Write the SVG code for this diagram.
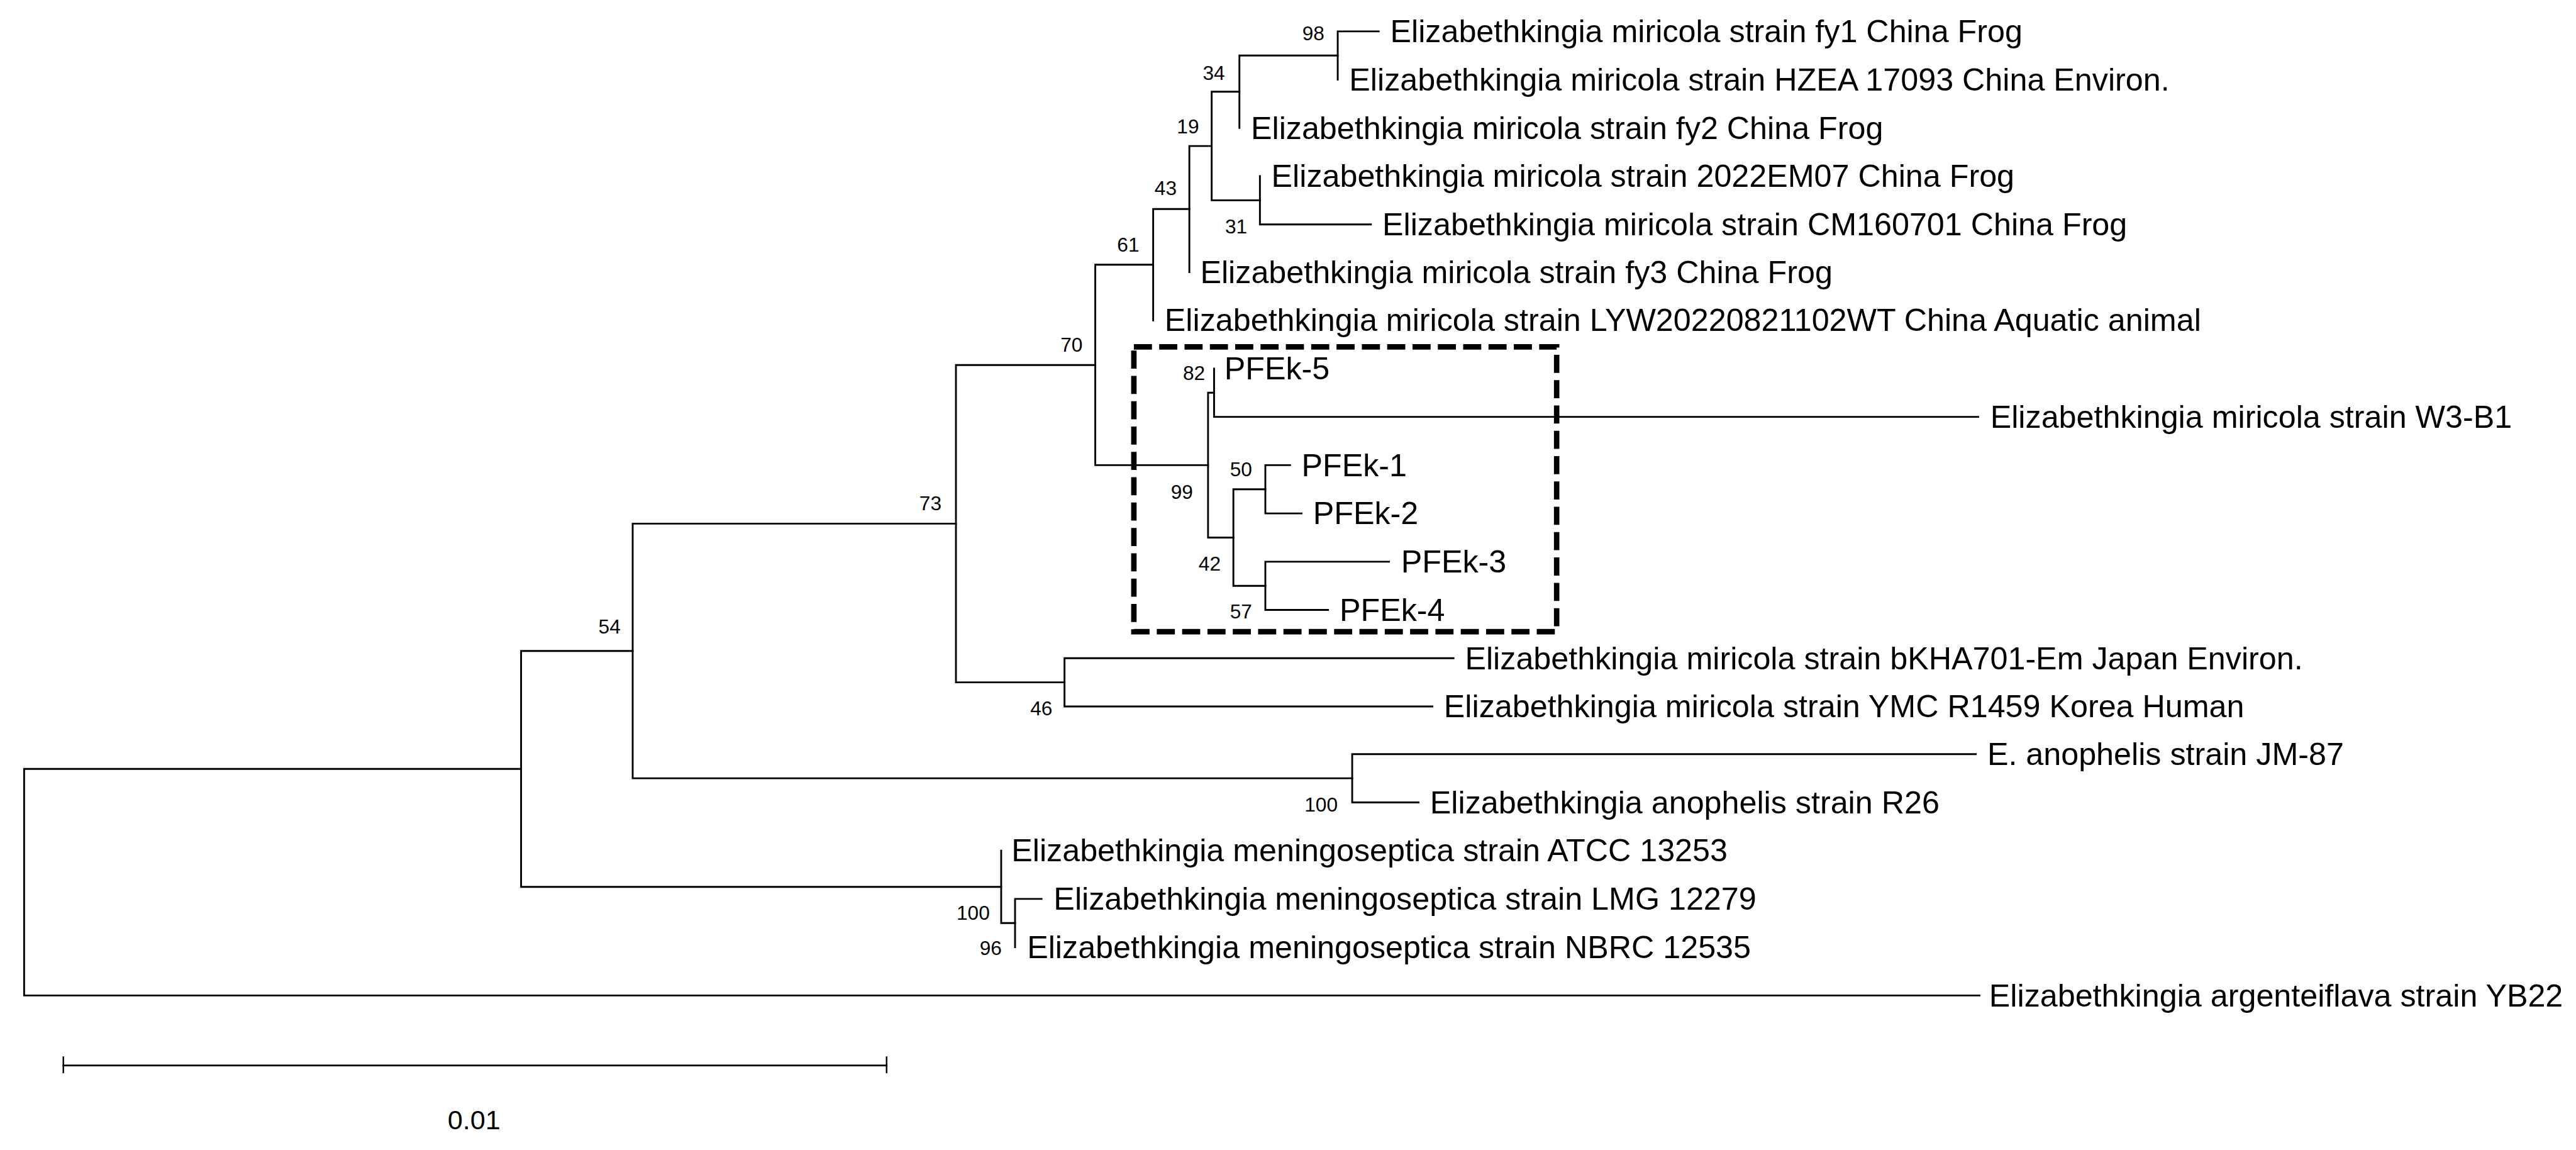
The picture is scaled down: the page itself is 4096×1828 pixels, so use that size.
<svg xmlns="http://www.w3.org/2000/svg" width="4096" height="1828" viewBox="0 0 4096 1828">
<style>
text{font-family:"Liberation Sans",Arial,sans-serif;fill:#000}
.leaf{font-size:52.4px}
.bs{font-size:33px;text-anchor:end}
.br{stroke:#000;stroke-width:3;fill:none;stroke-linecap:square}
.box{stroke:#000;stroke-width:9;fill:none;stroke-dasharray:30 12}
</style>
<rect width="4096" height="1828" fill="#fff"/>
<g transform="scale(0.959)">
<g id="connectors">
<path class="br" d="M40 1274.5V1650M40 1274.5H864M40 1650H3282"/>
<path class="br" d="M864 1079V1470M864 1079H1049M864 1470H1660"/>
<path class="br" d="M1049 868V1290M1049 868H1585M1049 1290H2242"/>
<path class="br" d="M1585 605V1131M1585 605H1816M1585 1131H1765"/>
<path class="br" d="M1816 438.8V771M1816 438.8H1912M1816 771H2003"/>
<path class="br" d="M1912 346.5V531M1912 346.5H1972"/>
<path class="br" d="M1972 242V451M1972 242H2009"/>
<path class="br" d="M2009 152V332M2009 152H2055M2009 332H2089"/>
<path class="br" d="M2055 92V212M2055 92H2218"/>
<path class="br" d="M2218 52V132M2218 52H2286"/>
<path class="br" d="M2089 292V372M2089 372H2273"/>
<path class="br" d="M2003 651V891M2003 651H2013M2003 891H2045"/>
<path class="br" d="M2013 611V691M2013 691H3280"/>
<path class="br" d="M2045 811V971M2045 811H2098M2045 971H2098"/>
<path class="br" d="M2098 771V851M2098 771H2139M2098 851H2158"/>
<path class="br" d="M2098 931V1011M2098 931H2303M2098 1011H2202"/>
<path class="br" d="M1765 1091V1171M1765 1091H2410M1765 1171H2375"/>
<path class="br" d="M2242 1250V1330M2242 1250H3276M2242 1330H2352"/>
<path class="br" d="M1660 1410V1530M1660 1530H1683"/>
<path class="br" d="M1683 1490V1570M1683 1490H1727"/>
</g>
<g id="highlight-box"><rect class="box" x="1880" y="575" width="701" height="472"/></g>
<g id="leaf-fy1"><text class="leaf" x="2305" y="70">Elizabethkingia miricola strain fy1 China Frog</text></g>
<g id="leaf-hzea"><text class="leaf" x="2237" y="150">Elizabethkingia miricola strain HZEA 17093 China Environ.</text></g>
<g id="leaf-fy2"><text class="leaf" x="2074" y="230">Elizabethkingia miricola strain fy2 China Frog</text></g>
<g id="leaf-2022em07"><text class="leaf" x="2108" y="310">Elizabethkingia miricola strain 2022EM07 China Frog</text></g>
<g id="leaf-cm160701"><text class="leaf" x="2292" y="390">Elizabethkingia miricola strain CM160701 China Frog</text></g>
<g id="leaf-fy3"><text class="leaf" x="1990" y="469">Elizabethkingia miricola strain fy3 China Frog</text></g>
<g id="leaf-lyw"><text class="leaf" x="1931" y="549">Elizabethkingia miricola strain LYW20220821102WT China Aquatic animal</text></g>
<g id="leaf-pfek5"><text class="leaf" x="2030" y="629">PFEk-5</text></g>
<g id="leaf-w3b1"><text class="leaf" x="3300" y="709">Elizabethkingia miricola strain W3-B1</text></g>
<g id="leaf-pfek1"><text class="leaf" x="2158" y="789">PFEk-1</text></g>
<g id="leaf-pfek2"><text class="leaf" x="2177" y="869">PFEk-2</text></g>
<g id="leaf-pfek3"><text class="leaf" x="2323" y="949">PFEk-3</text></g>
<g id="leaf-pfek4"><text class="leaf" x="2221" y="1029">PFEk-4</text></g>
<g id="leaf-bkha701"><text class="leaf" x="2429" y="1109">Elizabethkingia miricola strain bKHA701-Em Japan Environ.</text></g>
<g id="leaf-ymc"><text class="leaf" x="2394" y="1189">Elizabethkingia miricola strain YMC R1459 Korea Human</text></g>
<g id="leaf-jm87"><text class="leaf" x="3295" y="1268">E. anophelis strain JM-87</text></g>
<g id="leaf-r26"><text class="leaf" x="2371" y="1348">Elizabethkingia anophelis strain R26</text></g>
<g id="leaf-atcc"><text class="leaf" x="1677" y="1428">Elizabethkingia meningoseptica strain ATCC 13253</text></g>
<g id="leaf-lmg"><text class="leaf" x="1747" y="1508">Elizabethkingia meningoseptica strain LMG 12279</text></g>
<g id="leaf-nbrc"><text class="leaf" x="1703" y="1588">Elizabethkingia meningoseptica strain NBRC 12535</text></g>
<g id="leaf-yb22"><text class="leaf" x="3298" y="1668">Elizabethkingia argenteiflava strain YB22</text></g>
<g id="bs-98"><text class="bs" x="2196" y="67">98</text></g>
<g id="bs-34"><text class="bs" x="2031" y="132">34</text></g>
<g id="bs-19"><text class="bs" x="1988" y="221">19</text></g>
<g id="bs-43"><text class="bs" x="1951" y="323">43</text></g>
<g id="bs-31"><text class="bs" x="2068" y="387">31</text></g>
<g id="bs-61"><text class="bs" x="1889" y="417">61</text></g>
<g id="bs-70"><text class="bs" x="1795" y="583">70</text></g>
<g id="bs-82"><text class="bs" x="1998" y="630">82</text></g>
<g id="bs-99"><text class="bs" x="1978" y="827">99</text></g>
<g id="bs-50"><text class="bs" x="2076" y="789">50</text></g>
<g id="bs-42"><text class="bs" x="2024" y="946">42</text></g>
<g id="bs-57"><text class="bs" x="2076" y="1025">57</text></g>
<g id="bs-73"><text class="bs" x="1561" y="846">73</text></g>
<g id="bs-54"><text class="bs" x="1029" y="1050">54</text></g>
<g id="bs-46"><text class="bs" x="1745" y="1186">46</text></g>
<g id="bs-100a"><text class="bs" x="2218" y="1345">100</text></g>
<g id="bs-100b"><text class="bs" x="1641" y="1525">100</text></g>
<g id="bs-96"><text class="bs" x="1661" y="1583">96</text></g>
<g id="scale-bar">
<path class="br" d="M105 1766H1470"/>
<path stroke="#000" stroke-width="2.5" fill="none" d="M105 1751V1779M1470 1751V1779"/>
<text x="786" y="1872" font-size="45" text-anchor="middle">0.01</text>
</g>
</g>
</svg>
